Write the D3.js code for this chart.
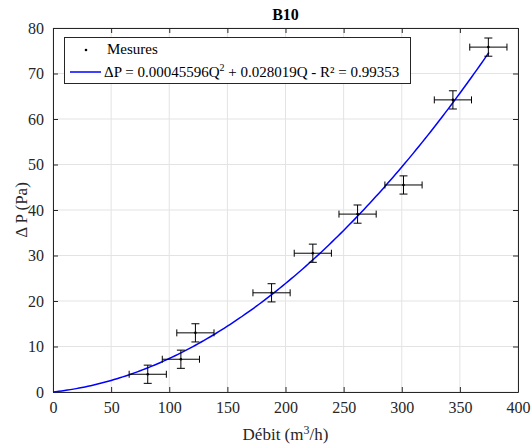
<!DOCTYPE html>
<html><head><meta charset="utf-8">
<script src="https://cdn.jsdelivr.net/npm/d3@7"></script>
<style>body{margin:0;background:#fff;} svg{display:block;} svg text{font-family:"Liberation Serif","Times New Roman",serif !important;}</style>
</head><body>
<svg id="chart" width="532" height="448"></svg>
<script>
// Data
const flowQ = [81.5, 110, 122.5, 188, 223.5, 262, 301.5, 344, 374.5];
const deltaP = [3.9, 7.2, 13.0, 21.8, 30.5, 39.1, 45.5, 64.2, 75.8];
const flowErr = [16, 16, 16, 16, 16, 16, 16, 16, 16];
const pErr = [2, 2, 2, 2, 2, 2, 2, 2, 2];
const xTicks = [0, 50, 100, 150, 200, 250, 300, 350, 400];
const yTicks = [0, 10, 20, 30, 40, 50, 60, 70, 80];
const fitA = 0.00045596, fitB = 0.028019;
const fitRange = [0, 375];

const svg = d3.select("#chart");
const m = {l: 53, r: 14, t: 28, b: 56};
const W = 532, H = 448;
const x = d3.scaleLinear().domain([0, 400]).range([m.l, W - m.r]);
const y = d3.scaleLinear().domain([0, 80]).range([H - m.b, m.t]);
const axisCol = "#262626";
const font = "Liberation Serif";

// grid
const g = svg.append("g");
g.selectAll(".gx").data(xTicks).enter().append("line")
  .attr("x1", d => x(d)).attr("x2", d => x(d)).attr("y1", y(0)).attr("y2", y(80))
  .attr("stroke", "#e3e3e3").attr("stroke-width", 1);
g.selectAll(".gy").data(yTicks).enter().append("line")
  .attr("y1", d => y(d)).attr("y2", d => y(d)).attr("x1", x(0)).attr("x2", x(400))
  .attr("stroke", "#e3e3e3").attr("stroke-width", 1);

// axes
const xAxis = d3.axisBottom(x).tickValues(xTicks).tickSizeInner(-5).tickSizeOuter(0).tickPadding(10);
const yAxis = d3.axisLeft(y).tickValues(yTicks).tickSizeInner(-5).tickSizeOuter(0).tickPadding(9);
const xTop = d3.axisTop(x).tickValues(xTicks).tickSizeInner(-5).tickSizeOuter(0).tickFormat("");
const yRight = d3.axisRight(y).tickValues(yTicks).tickSizeInner(-5).tickSizeOuter(0).tickFormat("");
function style(sel){
  sel.attr("font-family", font).attr("font-size", 16);
  sel.selectAll("path").attr("stroke", axisCol).attr("stroke-width", 1);
  sel.selectAll("line").attr("stroke", axisCol);
  sel.selectAll("text").attr("fill", axisCol);
}
svg.append("g").attr("transform", `translate(0,${y(0)})`).call(xAxis).call(style);
svg.append("g").attr("transform", `translate(${x(0)},0)`).call(yAxis).call(style);
svg.append("g").attr("transform", `translate(0,${y(80)})`).call(xTop).call(style);
svg.append("g").attr("transform", `translate(${x(400)},0)`).call(yRight).call(style);

// fit curve
const fitPts = d3.range(fitRange[0], fitRange[1] + 0.01, 2.5).map(q => [q, fitA*q*q + fitB*q]);
svg.append("path").datum(fitPts)
  .attr("d", d3.line().x(d => x(d[0])).y(d => y(d[1])))
  .attr("fill", "none").attr("stroke", "#0000ff").attr("stroke-width", 1.5);

// error bars
const pts = flowQ.map((q, i) => ({q, p: deltaP[i], ex: flowErr[i], ey: pErr[i]}));
const eb = svg.append("g").attr("stroke", "#000").attr("stroke-width", 1).attr("fill", "none");
const capV = 4, capH = 3.5;
pts.forEach(d => {
  const cx = x(d.q), cy = y(d.p);
  const y1 = y(d.p - d.ey), y2 = y(d.p + d.ey);
  const x1 = x(d.q - d.ex), x2 = x(d.q + d.ex);
  eb.append("line").attr("x1", cx).attr("x2", cx).attr("y1", y1).attr("y2", y2);
  eb.append("line").attr("x1", cx - capV).attr("x2", cx + capV).attr("y1", y1).attr("y2", y1);
  eb.append("line").attr("x1", cx - capV).attr("x2", cx + capV).attr("y1", y2).attr("y2", y2);
  eb.append("line").attr("x1", x1).attr("x2", x2).attr("y1", cy).attr("y2", cy);
  eb.append("line").attr("x1", x1).attr("x2", x1).attr("y1", cy - capH).attr("y2", cy + capH);
  eb.append("line").attr("x1", x2).attr("x2", x2).attr("y1", cy - capH).attr("y2", cy + capH);
  svg.append("circle").attr("cx", cx).attr("cy", cy).attr("r", 1.3).attr("fill", "#000");
});

// title
svg.append("text").attr("x", (x(0)+x(400))/2).attr("y", 20).attr("text-anchor", "middle")
  .attr("font-family", font).attr("font-size", 16).attr("font-weight", "bold").attr("fill", "#000").text("B10");

// axis labels
const xl = svg.append("text").attr("x", (x(0)+x(400))/2).attr("y", 440).attr("text-anchor", "middle")
  .attr("font-family", font).attr("font-size", 17).attr("fill", axisCol);
xl.append("tspan").text("Débit (m");
xl.append("tspan").attr("dy", -6).attr("font-size", 12).text("3");
xl.append("tspan").attr("dy", 6).text("/h)");
svg.append("text").attr("transform", `translate(27,${(y(0)+y(80))/2}) rotate(-90)`).attr("text-anchor", "middle")
  .attr("font-family", font).attr("font-size", 17).attr("fill", axisCol).text("Δ P (Pa)");

// legend
const lg = svg.append("g");
lg.append("rect").attr("x", 64.5).attr("y", 37.5).attr("width", 346).attr("height", 46)
  .attr("fill", "#fff").attr("stroke", axisCol).attr("stroke-width", 1);
lg.append("circle").attr("cx", 86).attr("cy", 50).attr("r", 1.3).attr("fill", "#000");
lg.append("text").attr("x", 107).attr("y", 54).attr("font-family", font).attr("font-size", 15).attr("fill", "#000").text("Mesures");
lg.append("line").attr("x1", 70).attr("x2", 101).attr("y1", 72).attr("y2", 72).attr("stroke", "#0000ff").attr("stroke-width", 1.5);
const lt = lg.append("text").attr("x", 104).attr("y", 77).attr("font-family", font).attr("font-size", 15).attr("fill", "#000");
lt.append("tspan").text("ΔP = 0.00045596Q");
lt.append("tspan").attr("dy", -6).attr("font-size", 10).text("2");
lt.append("tspan").attr("dy", 6).text(" + 0.028019Q - R² = 0.99353");
</script>
</body></html>
